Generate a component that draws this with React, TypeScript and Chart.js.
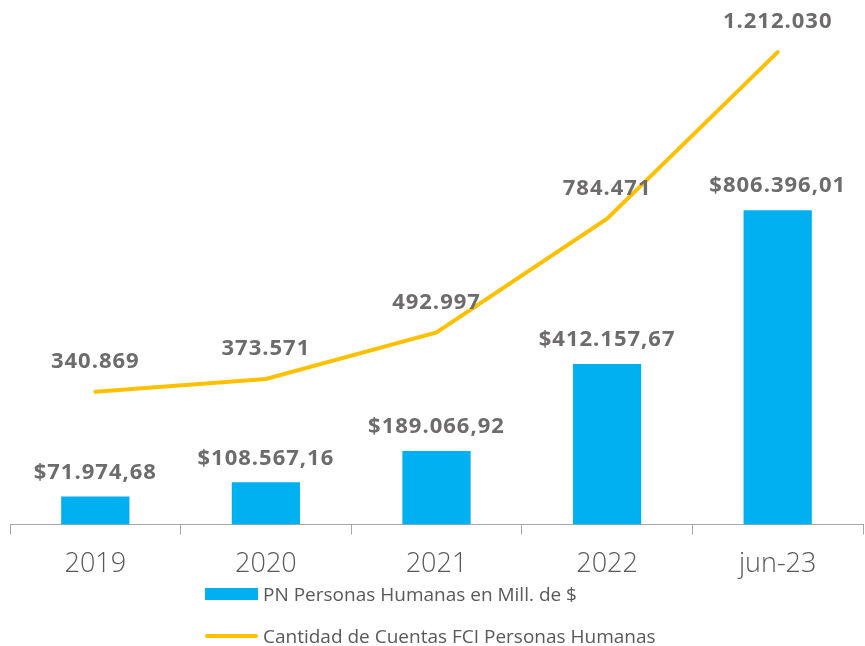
import React, { useEffect, useRef } from "react";
import { Chart, registerables } from "chart.js";

Chart.register(...registerables);

const categories = ["2019", "2020", "2021", "2022", "jun-23"];
const pnValues = [71974.68, 108567.16, 189066.92, 412157.67, 806396.01];
const pnLabels = ["$71.974,68", "$108.567,16", "$189.066,92", "$412.157,67", "$806.396,01"];
const cuentasValues = [340869, 373571, 492997, 784471, 1212030];
const cuentasLabels = ["340.869", "373.571", "492.997", "784.471", "1.212.030"];
const seriesNames = ["PN Personas Humanas en Mill. de $", "Cantidad de Cuentas FCI Personas Humanas"];

const BLUE = "#00b0f0";
const GOLD = "#ffc000";
const LABEL_GRAY = "#6d6b6b";
const AXIS_GRAY = "#595959";

const labelPlugin = {
  id: "valueLabels",
  afterDatasetsDraw(chart: any) {
    const ctx = chart.ctx;
    ctx.save();
    ctx.font = "bold 22px 'Open Sans', sans-serif";
    try {
      (ctx as any).letterSpacing = "1px";
    } catch (e) {}
    ctx.fillStyle = LABEL_GRAY;
    ctx.textAlign = "center";
    ctx.textBaseline = "middle";
    chart.data.datasets.forEach((ds: any, di: number) => {
      const meta = chart.getDatasetMeta(di);
      const texts = di === 0 ? pnLabels : cuentasLabels;
      const off = di === 0 ? 24 : 30;
      meta.data.forEach((el: any, i: number) => {
        ctx.fillText(texts[i], el.x, el.y - off);
      });
    });
    ctx.restore();
  },
};

export default function App() {
  const ref = useRef<HTMLCanvasElement | null>(null);
  useEffect(() => {
    if (!ref.current) return;
    const chart = new Chart(ref.current, {
      type: "bar",
      data: {
        labels: categories,
        datasets: [
          {
            type: "bar",
            label: seriesNames[0],
            data: pnValues,
            backgroundColor: BLUE,
            barPercentage: 0.4,
            categoryPercentage: 1,
            order: 2,
          } as any,
          {
            type: "line",
            label: seriesNames[1],
            data: cuentasValues,
            borderColor: GOLD,
            backgroundColor: GOLD,
            borderWidth: 4,
            pointRadius: 0,
            tension: 0,
            borderCapStyle: "round",
            order: 1,
          } as any,
        ],
      },
      options: {
        animation: false,
        responsive: true,
        maintainAspectRatio: false,
        layout: { padding: { top: 10, left: 10, right: 2, bottom: 7 } },
        plugins: { legend: { display: false }, tooltip: { enabled: false } },
        scales: {
          x: {
            grid: {
              display: true,
              drawOnChartArea: false,
              drawTicks: true,
              tickLength: 10,
              color: "#a6a6a6",
              lineWidth: 1,
            },
            border: { display: true, color: "#a6a6a6", width: 1 },
            ticks: {
              color: AXIS_GRAY,
              padding: 14,
              font: { family: "'Open Sans', sans-serif", size: 27, weight: 300 as any },
            },
          },
          y: {
            display: false,
            min: 0,
            max: 1320000,
          },
        },
      },
      plugins: [labelPlugin],
    });
    return () => chart.destroy();
  }, []);

  const legendText: React.CSSProperties = {
    fontFamily: "'Open Sans', sans-serif",
    fontSize: 19,
    color: AXIS_GRAY,
    marginLeft: 5,
    whiteSpace: "nowrap",
  };

  return (
    <div style={{ position: "absolute", left: 0, top: 0, width: 865, height: 646, background: "#fff" }}>
      <div style={{ position: "absolute", left: 0, top: 0, width: 865, height: 602 }}>
        <canvas ref={ref} />
      </div>
      <div style={{ position: "absolute", left: 205, top: 582, display: "flex", alignItems: "center", height: 24 }}>
        <span style={{ display: "inline-block", width: 53, height: 12, background: BLUE }} />
        <span style={legendText}>{seriesNames[0]}</span>
      </div>
      <div style={{ position: "absolute", left: 205, top: 624, display: "flex", alignItems: "center", height: 24 }}>
        <span style={{ display: "inline-block", width: 53, height: 4, background: GOLD, borderRadius: 2 }} />
        <span style={legendText}>{seriesNames[1]}</span>
      </div>
    </div>
  );
}
